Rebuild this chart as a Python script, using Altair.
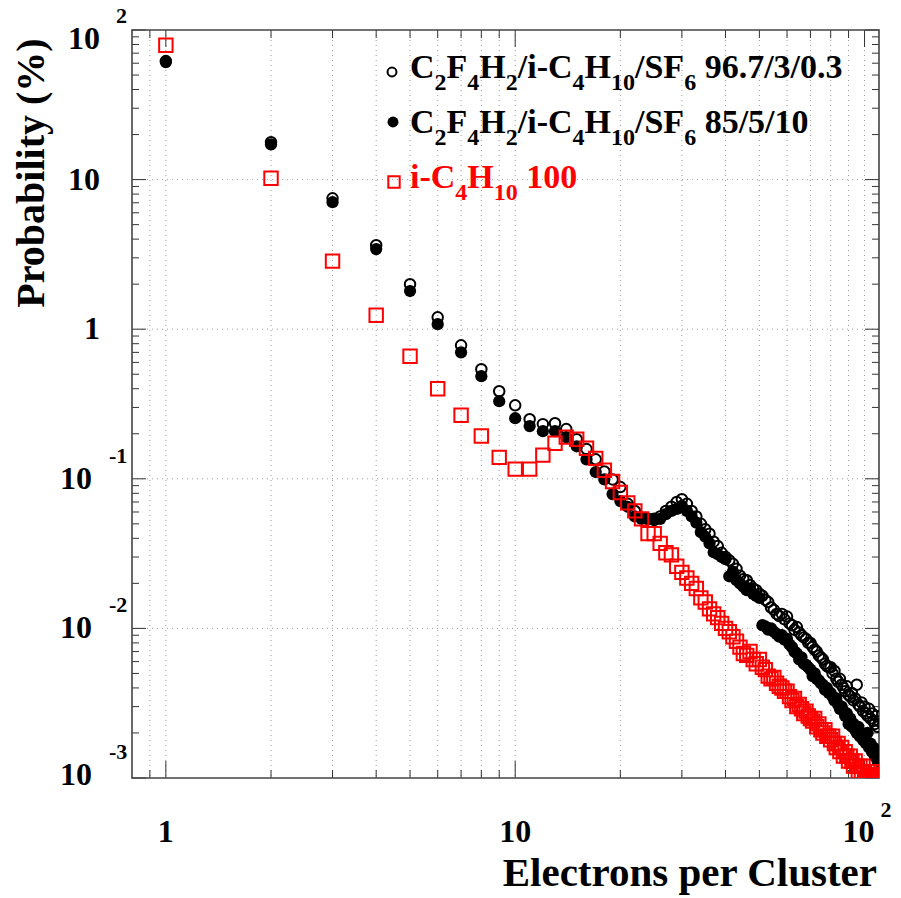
import altair as alt
import pandas as pd

# ---------------- data ----------------
electrons = list(range(1, 111))

prob_open = [62, 17.8, 7.5, 3.64, 2.0, 1.20, 0.78, 0.54, 0.385, 0.31,
             0.25, 0.232, 0.235, 0.215, 0.184, 0.158, 0.135, 0.112, 0.099, 0.088,
             0.068, 0.061, 0.055, 0.054, 0.054, 0.056, 0.061, 0.065, 0.070, 0.073,
             0.068, 0.061, 0.056, 0.050, 0.046, 0.043, 0.038, 0.0355, 0.032, 0.030,
             0.0285, 0.027, 0.025, 0.0225, 0.0213, 0.021, 0.0195, 0.0185, 0.018, 0.017,
             0.0165, 0.0155, 0.015, 0.0138, 0.0133, 0.0125, 0.0121, 0.0125, 0.0115, 0.012,
             0.0108, 0.0105, 0.0098, 0.0102, 0.0094, 0.0090, 0.0087, 0.0085, 0.0080, 0.0080,
             0.0075, 0.0072, 0.0070, 0.0066, 0.0064, 0.0062, 0.0058, 0.0056, 0.0055, 0.0055,
             0.0050, 0.0052, 0.0046, 0.0044, 0.0046, 0.0042, 0.0040, 0.0038, 0.0041, 0.0036,
             0.0035, 0.0037, 0.0033, 0.0034, 0.0042, 0.0031, 0.0030, 0.0032, 0.0028, 0.0030,
             0.0027, 0.0026, 0.0029, 0.0025, 0.0027, 0.0024, 0.0023, 0.0026, 0.0022, 0.0024]

prob_filled = [61, 17.2, 7.06, 3.43, 1.80, 1.08, 0.70, 0.485, 0.33, 0.254,
               0.225, 0.208, 0.208, 0.19, 0.165, 0.135, 0.111, 0.099, 0.079, 0.071,
               0.065, 0.056, 0.054, 0.0537, 0.053, 0.054, 0.058, 0.061, 0.063, 0.066,
               0.061, 0.056, 0.051, 0.044, 0.041, 0.037, 0.0323, 0.0313, 0.030, 0.029,
               0.0223, 0.024, 0.021, 0.020, 0.019, 0.018, 0.0185, 0.0170, 0.0165, 0.0160,
               0.0105, 0.0103, 0.0098, 0.0100, 0.0095, 0.0092, 0.0088, 0.0090, 0.0084, 0.0085,
               0.0078, 0.0075, 0.0070, 0.0068, 0.0062, 0.0064, 0.0058, 0.0057, 0.0055, 0.0053,
               0.0048, 0.0050, 0.0046, 0.0045, 0.0043, 0.0042, 0.0039, 0.0040, 0.0037, 0.0037,
               0.0035, 0.0033, 0.0034, 0.0031, 0.0029, 0.0030, 0.0028, 0.0026, 0.0027, 0.0023,
               0.0025, 0.0022, 0.0023, 0.0021, 0.0020, 0.0022, 0.0019, 0.0020, 0.0018, 0.0019,
               0.0017, 0.0020, 0.0016, 0.0017, 0.0015, 0.0016, 0.0014, 0.0015, 0.0013, 0.0014]

prob_iso = [79, 10.2, 2.85, 1.24, 0.66, 0.40, 0.266, 0.193, 0.139, 0.116,
            0.116, 0.144, 0.173, 0.19, 0.184, 0.16, 0.137, 0.114, 0.096, 0.081,
            0.069, 0.061, 0.054, 0.043, 0.043, 0.037, 0.032, 0.031, 0.026, 0.0237,
            0.0217, 0.0200, 0.0185, 0.0160, 0.0150, 0.0135, 0.0125, 0.0118, 0.0108, 0.0100,
            0.0095, 0.0088, 0.0082, 0.0075, 0.0068, 0.0066, 0.0070, 0.0062, 0.0058, 0.0062,
            0.0055, 0.0053, 0.0048, 0.0046, 0.0047, 0.0043, 0.0041, 0.0040, 0.0038, 0.0038,
            0.0035, 0.0033, 0.0034, 0.0030, 0.0031, 0.0029, 0.0027, 0.0028, 0.0026, 0.0025,
            0.0024, 0.0025, 0.0022, 0.0023, 0.0021, 0.0020, 0.0021, 0.0019, 0.0019, 0.0018,
            0.0019, 0.0017, 0.0016, 0.0017, 0.0015, 0.0016, 0.0014, 0.0015, 0.0014, 0.0013,
            0.0014, 0.0013, 0.0012, 0.0013, 0.0012, 0.0011, 0.0012, 0.0011, 0.0012, 0.0011,
            0.0010, 0.0011, 0.00105, 0.0010, 0.0011, 0.00102, 0.0010, 0.00105, 0.0010, 0.00102]

x_grid_vals = [0.9, 1, 2, 3, 4, 5, 6, 7, 8, 9, 10, 20, 30, 40, 50, 60, 70, 80, 90, 100]
x_major = [1, 10, 100]
y_grid_vals = [0.01, 0.1, 1, 10]
y_major = [0.001, 0.01, 0.1, 1, 10, 100]
y_minor = [m * 10.0 ** e for e in range(-3, 2) for m in range(2, 10)]
x_minor = [v for v in x_grid_vals if v not in x_major]

x_label_vals = [1, 10, 100]
x_label_base = ["1", "10", "10"]
x_label_sup = ["", "", "2"]
y_label_vals = [100, 10, 1, 0.1, 0.01, 0.001]
y_label_base = ["10", "10", "1", "10", "10", "10"]
y_label_sup = ["2", "", "", "-1", "-2", "-3"]

x_title = "Electrons per Cluster"
y_title = "Probability (%)"

# legend text pieces: (text, is_subscript); "|" marks a word gap
legend_chem = [("C", 0), ("2", 1), ("F", 0), ("4", 1), ("H", 0), ("2", 1), ("/i-C", 0),
               ("4", 1), ("H", 0), ("10", 1), ("/SF", 0), ("6", 1)]
legend_tail = ["96.7/3/0.3", "85/5/10"]
legend_iso = [("i-C", 0), ("4", 1), ("H", 0), ("10", 1), ("|", 0), ("100", 0)]

# ---------------- layout ----------------
W, H = 747, 748
OX, OY = 132, 30
FONT = "Liberation Serif"
RED = "#ff0000"
xsc = alt.Scale(type="log", domain=[0.8, 110], nice=False)
ysc = alt.Scale(type="log", domain=[0.001, 100], nice=False)

# approximate advance widths (Times bold, 1/1000 em) for chaining legend pieces
ADV = {"C": 722, "F": 611, "H": 778, "S": 556, "i": 278, "-": 333, "/": 278,
       " ": 250, ".": 250, "|": 250}
def adv(s, size):
    return sum(ADV.get(ch, 500) for ch in s) * size / 1000.0

layers = []

def one(t):
    return pd.DataFrame({"t": [t]})

# grid
layers.append(alt.Chart(pd.DataFrame({"v": x_grid_vals})).mark_rule(
    color="#9a9a9a", strokeDash=[1, 4], strokeWidth=1).encode(
    x=alt.X("v:Q", scale=xsc, axis=None), y=alt.value(0), y2=alt.value(H)))
layers.append(alt.Chart(pd.DataFrame({"v": y_grid_vals})).mark_rule(
    color="#9a9a9a", strokeDash=[1, 4], strokeWidth=1).encode(
    y=alt.Y("v:Q", scale=ysc, axis=None), x=alt.value(0), x2=alt.value(W)))

# ticks
def xticks(vals, ln):
    d = pd.DataFrame({"v": vals})
    b = alt.Chart(d).mark_rule(color="#333", strokeWidth=1).encode(
        x=alt.X("v:Q", scale=xsc, axis=None), y=alt.value(H), y2=alt.value(H - ln))
    t = alt.Chart(d).mark_rule(color="#333", strokeWidth=1).encode(
        x=alt.X("v:Q", scale=xsc, axis=None), y=alt.value(0), y2=alt.value(ln))
    return [b, t]

def yticks(vals, ln):
    d = pd.DataFrame({"v": vals})
    l = alt.Chart(d).mark_rule(color="#333", strokeWidth=1).encode(
        y=alt.Y("v:Q", scale=ysc, axis=None), x=alt.value(0), x2=alt.value(ln))
    r = alt.Chart(d).mark_rule(color="#333", strokeWidth=1).encode(
        y=alt.Y("v:Q", scale=ysc, axis=None), x=alt.value(W), x2=alt.value(W - ln))
    return [l, r]

layers += xticks(x_major, 17) + xticks(x_minor, 8)
layers += yticks(y_major, 14) + yticks(y_minor, 7)

# frame
layers.append(alt.Chart(one("f")).mark_rect(fill=None, stroke="#444", strokeWidth=1.6).encode(
    x=alt.value(0), x2=alt.value(W), y=alt.value(0), y2=alt.value(H)))

# data series
df = pd.DataFrame({"n": electrons, "a": prob_open, "b": prob_filled, "c": prob_iso})
X = alt.X("n:Q", scale=xsc, axis=None)
layers.append(alt.Chart(df).mark_point(shape="circle", filled=False, color="black",
                                        size=110, strokeWidth=2, opacity=1, clip=True).encode(
    x=X, y=alt.Y("a:Q", scale=ysc, axis=None)))
layers.append(alt.Chart(df).mark_point(shape="circle", filled=True, color="black",
                                        size=150, opacity=1, clip=True).encode(
    x=X, y=alt.Y("b:Q", scale=ysc, axis=None)))
layers.append(alt.Chart(df).mark_point(shape="square", filled=False, color=RED,
                                        size=180, strokeWidth=2, opacity=1, clip=True).encode(
    x=X, y=alt.Y("c:Q", scale=ysc, axis=None)))

def txt(d, xenc, yenc, **kw):
    return alt.Chart(d).mark_text(font=FONT, fontWeight="bold", color="black", **kw).encode(
        x=xenc, y=yenc, text="t:N")

# y labels (one layer per label so each can get its own nudge)
for v, b, s in zip(y_label_vals, y_label_base, y_label_sup):
    shift = 9 if v == 100 else (-3 if v == 0.001 else 0)
    if s == "":
        bx, sx = 100, None
    elif s.startswith("-"):
        bx, sx = 92, 109
    else:
        bx, sx = 100, 116
    d = pd.DataFrame({"v": [v], "t": [b]})
    layers.append(txt(d, alt.value(bx - OX), alt.Y("v:Q", scale=ysc, axis=None),
                      fontSize=32, align="right", baseline="middle", dy=shift))
    if sx is not None:
        d2 = pd.DataFrame({"v": [v], "t": [s]})
        layers.append(txt(d2, alt.value(sx - OX), alt.Y("v:Q", scale=ysc, axis=None),
                          fontSize=22, align="left", baseline="middle", dy=shift - 23))

# x labels
for v, b, s in zip(x_label_vals, x_label_base, x_label_sup):
    d = pd.DataFrame({"v": [v], "t": [b]})
    layers.append(txt(d, alt.X("v:Q", scale=xsc, axis=None), alt.value(832 - OY),
                      fontSize=32, align="center", baseline="middle", dx=(-6 if s else 0)))
    if s:
        d2 = pd.DataFrame({"v": [v], "t": [s]})
        layers.append(txt(d2, alt.X("v:Q", scale=xsc, axis=None), alt.value(810 - OY),
                          fontSize=22, align="left", baseline="middle", dx=16))

# axis titles
layers.append(txt(one(x_title), alt.value(877 - OX), alt.value(886 - OY),
                  fontSize=41, align="right", baseline="alphabetic"))
layers.append(txt(one(y_title), alt.value(44 - OX), alt.value(173 - OY),
                  fontSize=40, align="center", baseline="alphabetic", angle=270))

# legend
MAIN, SUB, SUBDROP = 34, 24, 12

def seg_layers(parts, x0, base_y, color):
    out = []
    x = x0
    for p, is_sub in parts:
        size = SUB if is_sub else MAIN
        if p != "|":
            out.append(alt.Chart(one(p)).mark_text(
                font=FONT, fontWeight="bold", color=color, align="left", baseline="alphabetic",
                fontSize=size).encode(
                x=alt.value(x - OX), y=alt.value(base_y + (SUBDROP if is_sub else 0) - OY),
                text="t:N"))
        x += adv(p, size)
    return out

layers += seg_layers(legend_chem + [("|", 0), (legend_tail[0], 0)], 410, 78, "black")
layers += seg_layers(legend_chem + [("|", 0), (legend_tail[1], 0)], 410, 133, "black")
layers += seg_layers(legend_iso, 410, 188, RED)

layers.append(alt.Chart(one("o")).mark_point(shape="circle", filled=False, color="black",
                                              size=80, strokeWidth=2, opacity=1).encode(
    x=alt.value(392 - OX), y=alt.value(72 - OY)))
layers.append(alt.Chart(one("f")).mark_point(shape="circle", filled=True, color="black",
                                              size=120, opacity=1).encode(
    x=alt.value(393 - OX), y=alt.value(122 - OY)))
layers.append(alt.Chart(one("s")).mark_point(shape="square", filled=False, color=RED,
                                              size=130, strokeWidth=2, opacity=1).encode(
    x=alt.value(394 - OX), y=alt.value(182 - OY)))

chart = alt.layer(*layers).properties(
    width=W, height=H,
    padding={"left": OX, "top": OY, "right": 901 - OX - W, "bottom": 898 - OY - H},
    autosize=alt.AutoSizeParams(type="none"),
    background="white",
).configure_view(stroke=None)

chart.save("out.html", embed_options={"renderer": "svg", "actions": False})
